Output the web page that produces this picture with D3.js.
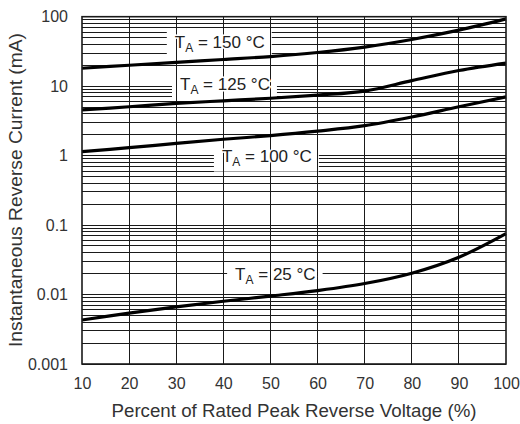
<!DOCTYPE html>
<html>
<head>
<meta charset="utf-8">
<script src="https://cdn.jsdelivr.net/npm/d3@7"></script>
<style>
  html, body { margin: 0; padding: 0; background: #fff; }
  svg { display: block; }
  text { font-family: "Liberation Sans", Arial, Helvetica, sans-serif; }
</style>
</head>
<body>
<svg id="chart" width="520" height="424"></svg>
<script>
// ---- data ----
const voltagePct = [10, 20, 30, 40, 50, 60, 70, 80, 90, 100];
const current150 = [18.1, 20.0, 22.0, 24.2, 26.7, 30.5, 36.5, 47.0, 64.0, 93.0];
const current125 = [4.55, 5.05, 5.65, 6.15, 6.7, 7.45, 8.5, 12.0, 16.8, 21.5];
const current100 = [1.14, 1.30, 1.50, 1.72, 1.94, 2.25, 2.70, 3.6, 5.05, 7.0];
const current25  = [0.0043, 0.0054, 0.00665, 0.0080, 0.0095, 0.0114, 0.0144, 0.0203, 0.0345, 0.0755];
const seriesNames = ["150", "125", "100", "25"];
const xTicks = [10, 20, 30, 40, 50, 60, 70, 80, 90, 100];
const yTicks = [0.001, 0.01, 0.1, 1, 10, 100];
const yTickLabels = ["0.001", "0.01", "0.1", "1", "10", "100"];
// label anchors (data coordinates: text start %, baseline current)
const labelX = [29.7, 30.8, 39.7, 42.5];
const labelY = [35, 8.8, 0.82, 0.0162];
const xTitle = "Percent of Rated Peak Reverse Voltage (%)";
const yTitle = "Instantaneous Reverse Current (mA)";

const allSeries = [current150, current125, current100, current25];

// ---- layout ----
const svg = d3.select("#chart");
const L = 82, R = 506, T = 16.7, B = 364;
const x = d3.scaleLinear().domain([10, 100]).range([L, R]);
const y = d3.scaleLog().domain([0.001, 100]).range([B, T]);

svg.append("rect").attr("width", 520).attr("height", 424).attr("fill", "#fff");

const gridColor = "#1a1a1a";

// horizontal gridlines (minor + major)
const hVals = [];
for (let e = -3; e < 2; e++) {
  for (let m = 1; m <= 9; m++) hVals.push(m * Math.pow(10, e));
}
svg.append("g").selectAll("line").data(hVals).join("line")
  .attr("x1", L).attr("x2", R)
  .attr("y1", d => y(d)).attr("y2", d => y(d))
  .attr("stroke", gridColor).attr("stroke-width", 1)
  .attr("shape-rendering", "crispEdges");

const boxes = svg.append("g");
const vgrid = svg.append("g");
const curves = svg.append("g");
const texts = svg.append("g");

seriesNames.forEach((name, i) => {
  const t = texts.append("text")
    .attr("x", x(labelX[i])).attr("y", y(labelY[i]))
    .attr("font-size", 17).attr("fill", "#222");
  t.append("tspan").text("T");
  t.append("tspan").attr("font-size", 12).attr("dy", 4).text("A");
  t.append("tspan").attr("dy", -4).text(" = " + name + " \u00B0C");
  const bb = t.node().getBBox();
  boxes.append("rect")
    .attr("x", bb.x - 8).attr("y", y(labelY[i]) - 17)
    .attr("width", bb.width + 15).attr("height", 27)
    .attr("fill", "#fff");
});

// vertical gridlines
vgrid.selectAll("line").data(xTicks.slice(1, -1)).join("line")
  .attr("x1", d => x(d)).attr("x2", d => x(d))
  .attr("y1", T).attr("y2", B)
  .attr("stroke", gridColor).attr("stroke-width", 1)
  .attr("shape-rendering", "crispEdges");

// halo behind text so verticals don't cross glyphs
texts.selectAll("text")
  .attr("stroke", "#fff").attr("stroke-width", 3)
  .attr("paint-order", "stroke");
texts.raise();

// curves
const line = d3.line()
  .x((d, i) => x(voltagePct[i]))
  .y(d => y(d))
  .curve(d3.curveCatmullRom.alpha(0.5));
curves.selectAll("path").data(allSeries).join("path")
  .attr("d", d => line(d))
  .attr("fill", "none").attr("stroke", "#000")
  .attr("stroke-width", 3.2).attr("stroke-linecap", "butt");

// frame
svg.append("rect")
  .attr("x", L).attr("y", T).attr("width", R - L).attr("height", B - T)
  .attr("fill", "none").attr("stroke", "#1a1a1a").attr("stroke-width", 1.6);

// axes tick labels
const xAxis = d3.axisBottom(x).tickValues(xTicks).tickSize(0).tickPadding(14);
const gx = svg.append("g").attr("transform", `translate(0,${B})`).call(xAxis);
gx.select(".domain").remove();
gx.selectAll("text").attr("font-size", 16).attr("fill", "#333")
  .attr("font-family", "'Liberation Sans', Arial, sans-serif");

const yAxis = d3.axisLeft(y).tickValues(yTicks)
  .tickFormat((d, i) => yTickLabels[i]).tickSize(0).tickPadding(14);
const gy = svg.append("g").attr("transform", `translate(${L},0)`).call(yAxis);
gy.select(".domain").remove();
gy.selectAll("text").attr("font-size", 16).attr("fill", "#333")
  .attr("font-family", "'Liberation Sans', Arial, sans-serif");

// titles
svg.append("text")
  .attr("x", 294).attr("y", 417)
  .attr("text-anchor", "middle")
  .attr("font-size", 17.5).attr("fill", "#333")
  .attr("textLength", 365).attr("lengthAdjust", "spacingAndGlyphs")
  .text(xTitle);

svg.append("text")
  .attr("transform", `translate(22,190) rotate(-90)`)
  .attr("text-anchor", "middle")
  .attr("font-size", 17.5).attr("fill", "#333")
  .attr("textLength", 314).attr("lengthAdjust", "spacingAndGlyphs")
  .text(yTitle);
</script>
</body>
</html>
